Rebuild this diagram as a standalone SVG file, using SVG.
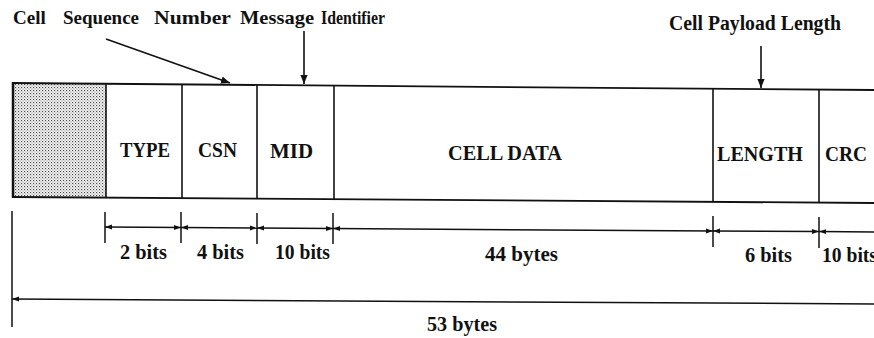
<svg xmlns="http://www.w3.org/2000/svg" width="874" height="338" viewBox="0 0 874 338">
<style>
text{font-family:"Liberation Serif","Times New Roman",serif;font-weight:bold;font-size:20px;fill:#111}
.top{font-size:19px}
.ln{stroke:#111;stroke-width:1.6;fill:none}
.bx{stroke:#111;stroke-width:1.8;fill:none}
.dim{stroke:#111;stroke-width:1.5;fill:none}
</style>
<defs>
<pattern id="dots" width="3" height="3" patternUnits="userSpaceOnUse">
<rect width="3" height="3" fill="#f4f4f4"/>
<rect x="0" y="0" width="1.1" height="1.1" fill="#444"/>
<rect x="1.5" y="1.5" width="1" height="1" fill="#777"/>
</pattern>
<marker id="ah" viewBox="0 0 10 10" refX="10" refY="5" markerWidth="9" markerHeight="9" markerUnits="userSpaceOnUse" orient="auto">
<path d="M0,1 L10,5 L0,9 Z" fill="#111"/>
</marker>
<marker id="dh" viewBox="0 0 10 10" refX="10" refY="5" markerWidth="7" markerHeight="7" markerUnits="userSpaceOnUse" orient="auto-start-reverse">
<path d="M0,1.5 L10,5 L0,8.5 Z" fill="#111"/>
</marker>
</defs>

<g id="labels-top">
<text class="top" y="24" x="13">Cell</text>
<text class="top" y="24" x="63">Sequence</text>
<text class="top" y="24" x="154" textLength="77" lengthAdjust="spacingAndGlyphs">Number</text>
<text class="top" y="24" x="240" textLength="74" lengthAdjust="spacingAndGlyphs">Message</text>
<text class="top" y="24" x="321" textLength="64" lengthAdjust="spacingAndGlyphs">Identifier</text>
<text x="669" y="30" textLength="172" lengthAdjust="spacingAndGlyphs">Cell Payload Length</text>
</g>

<g id="header">
<polygon points="13,83 106,83.8 106,197.7 13,197" fill="url(#dots)" stroke="none"/>
<line x1="13" y1="82" x2="13" y2="198" stroke="#111" stroke-width="2.5"/>
<line x1="106" y1="83.8" x2="106" y2="197.7" class="ln"/>
</g>
<g id="type">
<line x1="182" y1="84.4" x2="182" y2="198.2" class="ln"/>
<text x="120" y="157" textLength="50" lengthAdjust="spacingAndGlyphs">TYPE</text>
</g>
<g id="csn">
<line x1="257" y1="85" x2="257" y2="198.7" class="ln"/>
<text x="198" y="157" textLength="39" lengthAdjust="spacingAndGlyphs">CSN</text>
</g>
<g id="mid">
<line x1="334" y1="85.6" x2="334" y2="199.2" class="ln"/>
<text x="270" y="158" textLength="43" lengthAdjust="spacingAndGlyphs">MID</text>
</g>
<g id="celldata">
<text x="448" y="160" textLength="114" lengthAdjust="spacingAndGlyphs">CELL DATA</text>
</g>
<g id="length">
<line x1="713" y1="88.7" x2="713" y2="201.9" class="ln"/>
<text x="717" y="161" textLength="86" lengthAdjust="spacingAndGlyphs">LENGTH</text>
</g>
<g id="crc">
<line x1="819" y1="89.6" x2="819" y2="202.6" class="ln"/>
<text x="825" y="161" textLength="42" lengthAdjust="spacingAndGlyphs">CRC</text>
</g>
<g id="frame">
<line x1="12" y1="83" x2="874" y2="90" class="bx"/>
<line x1="12" y1="197" x2="874" y2="203" class="bx"/>
</g>

<g id="connectors">
<line x1="106" y1="39" x2="230" y2="83" class="ln" stroke-width="2" marker-end="url(#ah)"/>
<line x1="304" y1="31" x2="304" y2="84" class="ln" marker-end="url(#ah)"/>
<line x1="761" y1="46" x2="761" y2="88" class="ln" marker-end="url(#ah)"/>

<line x1="105" y1="212" x2="105" y2="243" class="dim"/>
<line x1="181" y1="212" x2="181" y2="243" class="dim"/>
<line x1="257" y1="213" x2="257" y2="244" class="dim"/>
<line x1="333" y1="213" x2="333" y2="244" class="dim"/>
<line x1="713" y1="216" x2="713" y2="247" class="dim"/>
<line x1="819" y1="217" x2="819" y2="248" class="dim"/>
<line x1="105" y1="227" x2="181" y2="227.5" class="dim" marker-start="url(#dh)" marker-end="url(#dh)"/>
<line x1="181" y1="227.5" x2="257" y2="228" class="dim" marker-start="url(#dh)" marker-end="url(#dh)"/>
<line x1="257" y1="228" x2="333" y2="228.5" class="dim" marker-start="url(#dh)" marker-end="url(#dh)"/>
<line x1="333" y1="228.5" x2="713" y2="231" class="dim" marker-start="url(#dh)" marker-end="url(#dh)"/>
<line x1="713" y1="231" x2="819" y2="231.6" class="dim" marker-start="url(#dh)" marker-end="url(#dh)"/>
<line x1="819" y1="231.6" x2="874" y2="232" class="dim" marker-start="url(#dh)"/>

<line x1="12" y1="211" x2="12" y2="327" class="dim"/>
<line x1="12" y1="299" x2="874" y2="304" class="dim" marker-start="url(#dh)"/>
</g>

<g id="dim-labels">
<text x="120" y="259" textLength="47" lengthAdjust="spacingAndGlyphs">2 bits</text>
<text x="197" y="259" textLength="47" lengthAdjust="spacingAndGlyphs">4 bits</text>
<text x="275" y="259" textLength="55" lengthAdjust="spacingAndGlyphs">10 bits</text>
<text x="485" y="261" textLength="73" lengthAdjust="spacingAndGlyphs">44  bytes</text>
<text x="745" y="262" textLength="47" lengthAdjust="spacingAndGlyphs">6 bits</text>
<text x="822" y="262" textLength="55" lengthAdjust="spacingAndGlyphs">10 bits</text>
<text x="427" y="331" textLength="70" lengthAdjust="spacingAndGlyphs">53 bytes</text>
</g>
</svg>
